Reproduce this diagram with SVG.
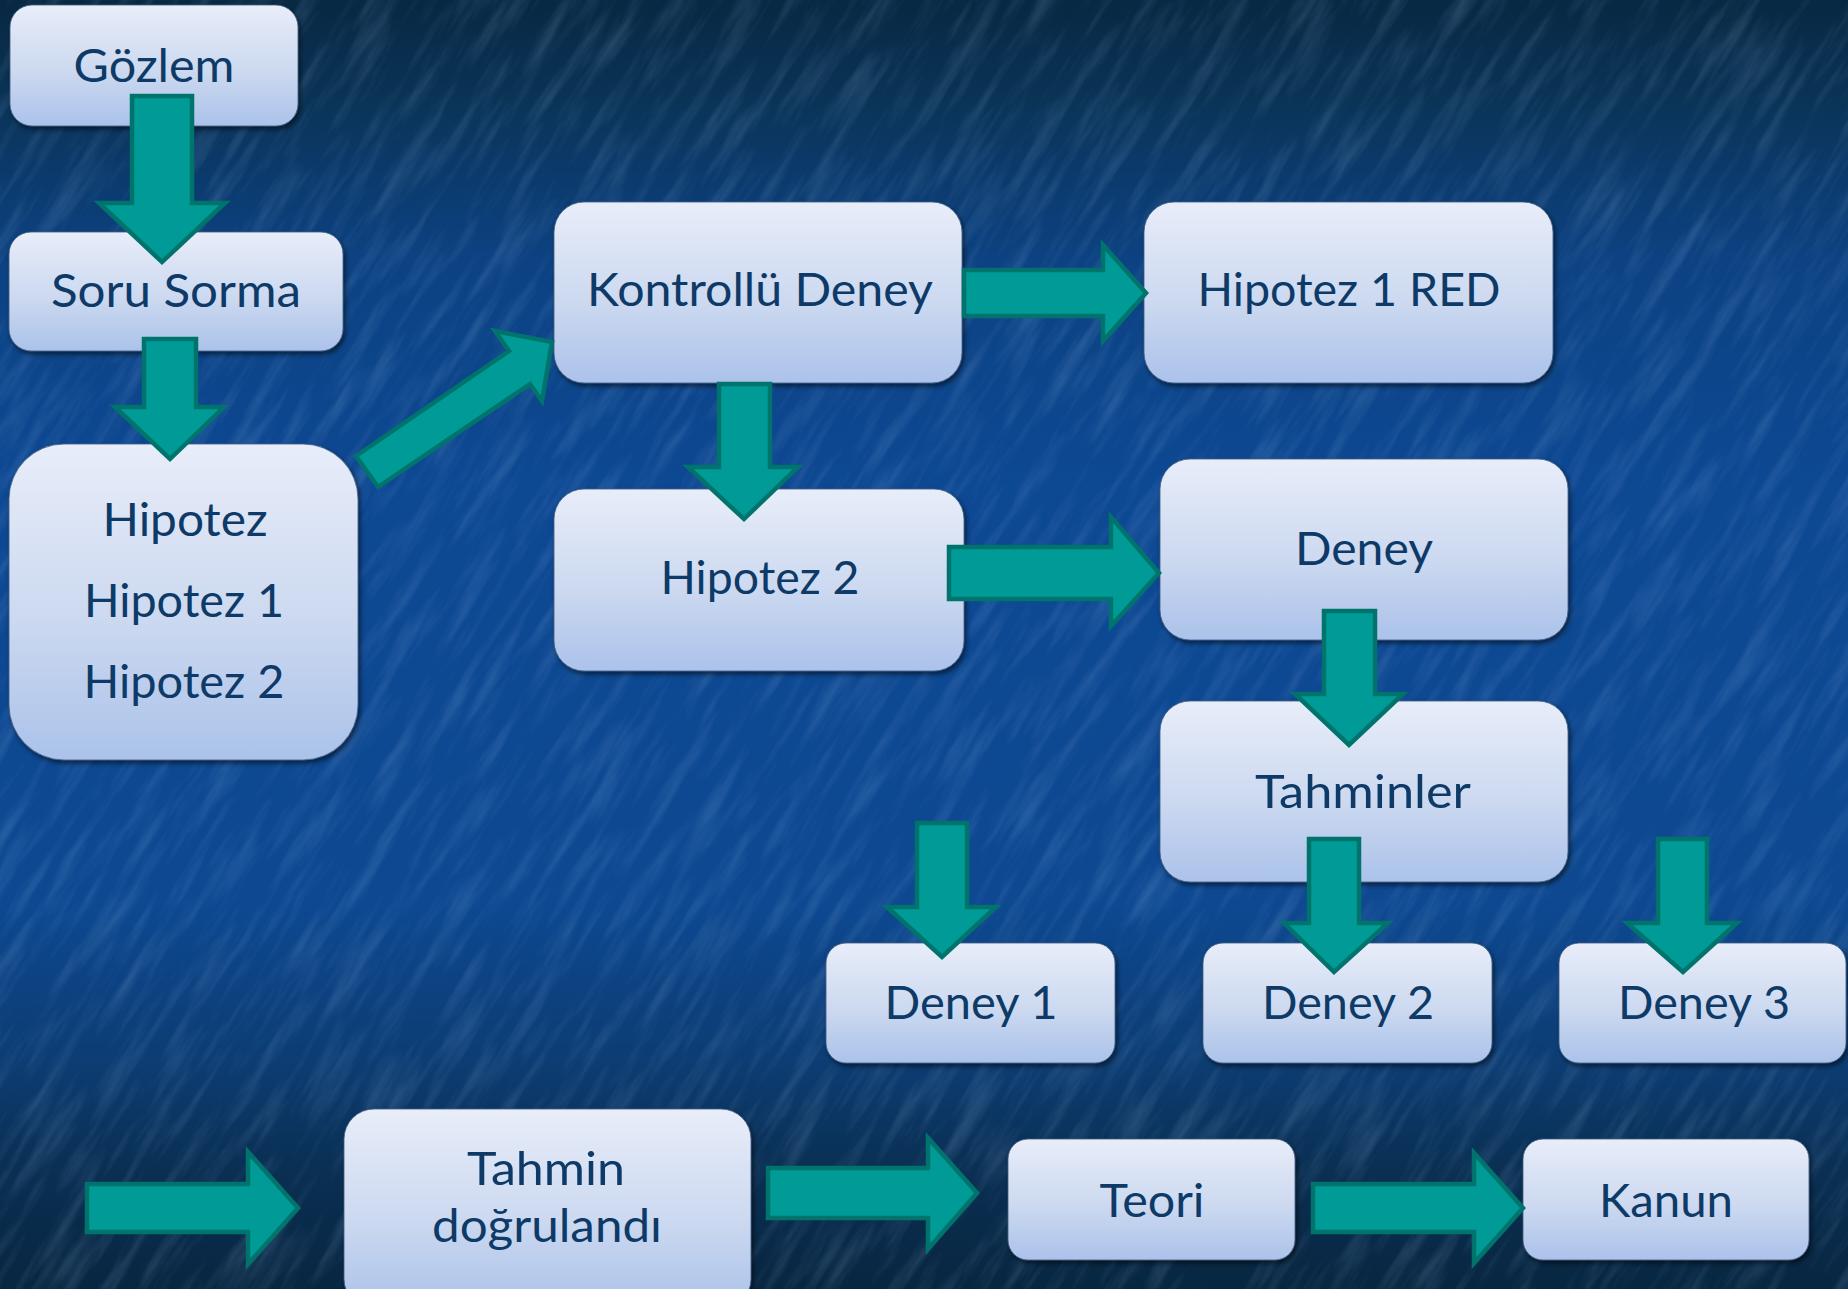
<svg xmlns="http://www.w3.org/2000/svg" width="1848" height="1289" viewBox="0 0 1848 1289">
<defs>
  <linearGradient id="bg" x1="0" y1="0" x2="0" y2="1">
    <stop offset="0" stop-color="#082843"/>
    <stop offset="0.07" stop-color="#0a3254"/>
    <stop offset="0.2" stop-color="#0c4282"/>
    <stop offset="0.38" stop-color="#0d4893"/>
    <stop offset="0.7" stop-color="#0d4891"/>
    <stop offset="0.82" stop-color="#0c3d74"/>
    <stop offset="0.9" stop-color="#0a3055"/>
    <stop offset="1" stop-color="#082640"/>
  </linearGradient>
  <linearGradient id="boxg" x1="0" y1="0" x2="0" y2="1">
    <stop offset="0" stop-color="#e8edf9"/>
    <stop offset="0.55" stop-color="#ccd9f0"/>
    <stop offset="1" stop-color="#abc2ea"/>
  </linearGradient>
  <filter id="tex" x="0" y="0" width="100%" height="100%">
    <feTurbulence type="fractalNoise" baseFrequency="0.01 0.07" numOctaves="4" seed="11" result="n"/>
    <feColorMatrix in="n" type="matrix" values="0 0 0 0 0.35  0 0 0 0 0.55  0 0 0 0 0.85  0 0 0 1.8 -0.8" result="c"/>
    <feComposite in="c" in2="SourceGraphic" operator="in"/>
  </filter>
  <filter id="sh" x="-10%" y="-10%" width="120%" height="130%">
    <feDropShadow dx="2" dy="3" stdDeviation="2.5" flood-color="#000" flood-opacity="0.55"/>
  </filter>
  <style>
    .box { fill: url(#boxg); stroke: #3d5a80; stroke-width: 0.8; filter: url(#sh); }
    .lbl { font-family: Lato, "Open Sans", "Liberation Sans", sans-serif; font-size: 46px; fill: #0e3a68; text-anchor: middle; }
    .arr { fill: #009b96; stroke: #00746c; stroke-width: 4.5; stroke-linejoin: miter; }
  </style>
</defs>

<rect x="0" y="0" width="1848" height="1289" fill="url(#bg)"/>
<g transform="rotate(-58 924 644)" opacity="0.3">
  <rect x="-700" y="-700" width="3250" height="3250" fill="#2b6cc4" filter="url(#tex)"/>
</g>
<rect x="0" y="0" width="1848" height="1289" fill="url(#bg)" opacity="0.3"/>

<g id="nodes">
  <g id="n-gozlem">
    <rect class="box" x="10" y="5" width="288" height="121" rx="22"/>
    <text class="lbl" x="154" y="82" textLength="161" lengthAdjust="spacingAndGlyphs">Gözlem</text>
  </g>
  <g id="n-soru">
    <rect class="box" x="9" y="232" width="334" height="119" rx="22"/>
    <text class="lbl" x="176" y="307" textLength="250" lengthAdjust="spacingAndGlyphs">Soru Sorma</text>
  </g>
  <g id="n-hipotez">
    <rect class="box" x="9" y="444" width="349" height="316" rx="55"/>
    <text class="lbl" x="185" y="536" textLength="165" lengthAdjust="spacingAndGlyphs">Hipotez</text>
    <text class="lbl" x="184" y="617" textLength="200" lengthAdjust="spacingAndGlyphs">Hipotez 1</text>
    <text class="lbl" x="184" y="698" textLength="201" lengthAdjust="spacingAndGlyphs">Hipotez 2</text>
  </g>
  <g id="n-kontrollu">
    <rect class="box" x="554" y="202" width="408" height="181" rx="30"/>
    <text class="lbl" x="760" y="306" textLength="346" lengthAdjust="spacingAndGlyphs">Kontrollü Deney</text>
  </g>
  <g id="n-h1red">
    <rect class="box" x="1144" y="202" width="409" height="181" rx="30"/>
    <text class="lbl" x="1349" y="306" textLength="303" lengthAdjust="spacingAndGlyphs">Hipotez 1 RED</text>
  </g>
  <g id="n-hipotez2">
    <rect class="box" x="554" y="489" width="410" height="182" rx="30"/>
    <text class="lbl" x="760" y="594" textLength="199" lengthAdjust="spacingAndGlyphs">Hipotez 2</text>
  </g>
  <g id="n-deney">
    <rect class="box" x="1160" y="459" width="408" height="181" rx="30"/>
    <text class="lbl" x="1364" y="565" textLength="138" lengthAdjust="spacingAndGlyphs">Deney</text>
  </g>
  <g id="n-tahminler">
    <rect class="box" x="1160" y="701" width="408" height="181" rx="30"/>
    <text class="lbl" x="1363" y="808" textLength="216" lengthAdjust="spacingAndGlyphs">Tahminler</text>
  </g>
  <g id="n-deney1">
    <rect class="box" x="826" y="943" width="289" height="120" rx="20"/>
    <text class="lbl" x="971" y="1019" textLength="173" lengthAdjust="spacingAndGlyphs">Deney 1</text>
  </g>
  <g id="n-deney2">
    <rect class="box" x="1203" y="943" width="289" height="120" rx="20"/>
    <text class="lbl" x="1348" y="1019" textLength="172" lengthAdjust="spacingAndGlyphs">Deney 2</text>
  </g>
  <g id="n-deney3">
    <rect class="box" x="1559" y="943" width="287" height="120" rx="20"/>
    <text class="lbl" x="1704" y="1019" textLength="172" lengthAdjust="spacingAndGlyphs">Deney 3</text>
  </g>
  <g id="n-tahmin">
    <rect class="box" x="344" y="1109" width="407" height="200" rx="30"/>
    <text class="lbl" x="546" y="1185" textLength="158" lengthAdjust="spacingAndGlyphs">Tahmin</text>
    <text class="lbl" x="547" y="1242" textLength="230" lengthAdjust="spacingAndGlyphs">doğrulandı</text>
  </g>
  <g id="n-teori">
    <rect class="box" x="1008" y="1139" width="287" height="121" rx="20"/>
    <text class="lbl" x="1152" y="1217" textLength="105" lengthAdjust="spacingAndGlyphs">Teori</text>
  </g>
  <g id="n-kanun">
    <rect class="box" x="1523" y="1139" width="286" height="121" rx="20"/>
    <text class="lbl" x="1666" y="1217" textLength="134" lengthAdjust="spacingAndGlyphs">Kanun</text>
  </g>
</g>

<g id="connectors">
  <!-- down arrows -->
  <polygon class="arr" points="132,96 192,96 192,203 225,203 162,262 99,203 132,203"/>
  <polygon class="arr" points="144,339 196,339 196,407 224,407 170,459 115,407 144,407"/>
  <polygon class="arr" points="719,384 770,384 770,467 798,467 744,519 688,467 719,467"/>
  <polygon class="arr" points="1324,611 1375,611 1375,694 1403,694 1349,745 1295,694 1324,694"/>
  <polygon class="arr" points="1309,839 1359,839 1359,923 1388,923 1334,972 1284,923 1309,923"/>
  <polygon class="arr" points="917,823 967,823 967,907 996,907 942,957 887,907 917,907"/>
  <polygon class="arr" points="1658,839 1707,839 1707,923 1737,923 1683,972 1627,923 1658,923"/>
  <!-- right arrows -->
  <polygon class="arr" points="964,270 1103,270 1103,245 1146,293 1103,341 1103,316 964,316"/>
  <polygon class="arr" points="949,547 1111,547 1111,517 1159,573 1111,626 1111,599 949,599"/>
  <polygon class="arr" points="87,1184 248,1184 248,1152 298,1208 248,1264 248,1232 87,1232"/>
  <polygon class="arr" points="768,1168 928,1168 928,1138 977,1193 928,1249 928,1218 768,1218"/>
  <polygon class="arr" points="1313,1184 1474,1184 1474,1153 1523,1208 1474,1263 1474,1232 1313,1232"/>
  <!-- diagonal arrow -->
  <polygon class="arr" points="356,456 509,351 495,331 552,342 542,401 530,384 378,487"/>
</g>
</svg>
